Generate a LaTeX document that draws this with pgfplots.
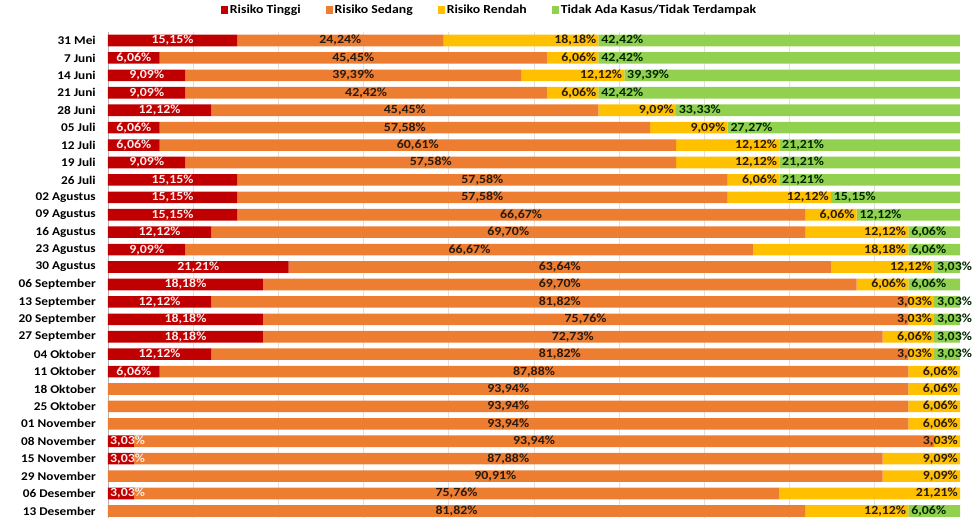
\documentclass[border=0pt]{standalone}
\usepackage{pgfplots}
\pgfplotsset{compat=1.18}
\usepackage{pgfplotstable}
\usepackage{fontspec}
\setmainfont{Carlito}[FakeStretch=1.12]
\definecolor{cred}{HTML}{C00000}
\definecolor{corange}{HTML}{ED7D31}
\definecolor{cyellow}{HTML}{FFC000}
\definecolor{cgreen}{HTML}{92D050}
\definecolor{ctext}{HTML}{2B1A0E}
\newcommand\lab[1]{\pgfmathparse{#1>0.01?1:0}\ifnum\pgfmathresult=1 \pgfmathprintnumber[fixed,fixed zerofill,precision=2,use comma,assume math mode=true]{#1}\%\fi}
\pgfplotstableread{
y r o ye g
0 15.15 24.24 18.18 42.42
1 6.06 45.45 6.06 42.42
2 9.09 39.39 12.12 39.39
3 9.09 42.42 6.06 42.42
4 12.12 45.45 9.09 33.33
5 6.06 57.58 9.09 27.27
6 6.06 60.61 12.12 21.21
7 9.09 57.58 12.12 21.21
8 15.15 57.58 6.06 21.21
9 15.15 57.58 12.12 15.15
10 15.15 66.67 6.06 12.12
11 12.12 69.70 12.12 6.06
12 9.09 66.67 18.18 6.06
13 21.21 63.64 12.12 3.03
14 18.18 69.70 6.06 6.06
15 12.12 81.82 3.03 3.03
16 18.18 75.76 3.03 3.03
17 18.18 72.73 6.06 3.03
18 12.12 81.82 3.03 3.03
19 6.06 87.88 6.06 0
20 0 93.94 6.06 0
21 0 93.94 6.06 0
22 0 93.94 6.06 0
23 3.03 93.94 3.03 0
24 3.03 87.88 9.09 0
25 0 90.91 9.09 0
26 3.03 75.76 21.21 0
27 0 81.82 12.12 6.06
}\data
\def\unitx{6.39}
\begin{document}
\begin{tikzpicture}
\begin{axis}[
  name=ax,
  scale only axis,
  width=639pt, height=364.6pt,
  xbar stacked, bar width=8.7pt,
  xmin=0, xmax=100, ymin=-0.5, ymax=27.4,
  enlargelimits=false,
  y dir=reverse,
  ytick={0,...,27},
  yticklabels={31 Mei,7 Juni,14 Juni,21 Juni,28 Juni,05 Juli,12 Juli,19 Juli,26 Juli,02 Agustus,09 Agustus,16 Agustus,23 Agustus,30 Agustus,06 September,13 September,20 September,27 September,04 Oktober,11 Oktober,18 Oktober,25 Oktober,01 November,08 November,15 November,29 November,06 Desember,13 Desember},
  yticklabel style={font=\fontsize{8.9}{10}\selectfont\bfseries, anchor=east, inner sep=0pt, xshift=-9pt, text=black},
  xtick={10,20,...,90}, xticklabels={},
  xmajorgrids, grid style={draw=black!12, line width=0.5pt},
  extra x ticks={0}, extra x tick labels={}, extra x tick style={grid style={draw=black!30, line width=0.6pt}},
  major tick length=0pt,
  axis line style={draw=none},
  point meta=x,
  every node near coord/.append style={font=\fontsize{9.3}{10}\selectfont\bfseries, inner sep=0pt},
  legend columns=4,
  legend style={at={(0.448,1)}, anchor=center, yshift=16.3pt, draw=none, fill=none,
    font=\fontsize{9.2}{10}\selectfont\bfseries,
    /tikz/every even column/.append style={column sep=17.5pt},
    nodes={inner sep=1.5pt}},
]
\addplot[fill=cred, draw=none,
  legend image code/.code={\fill[cred] (0pt,-2.8pt) rectangle (5pt,2.8pt);},
  visualization depends on={\thisrow{r} \as \sv},
  nodes near coords={\lab{\sv}},
  every node near coord/.append style={anchor=center, text=white!92!red, xshift={(\sv<4)*5pt}}]
  table[x=r, y=y] {\data};
\addlegendentry{Risiko Tinggi}
\addplot[fill=corange, draw=none,
  legend image code/.code={\fill[corange] (0pt,-2.8pt) rectangle (5pt,2.8pt);},
  visualization depends on={\thisrow{o} \as \sv},
  nodes near coords={\lab{\sv}},
  every node near coord/.append style={anchor=center, text=ctext}]
  table[x=o, y=y] {\data};
\addlegendentry{Risiko Sedang}
\addplot[fill=cyellow, draw=none,
  legend image code/.code={\fill[cyellow] (0pt,-2.8pt) rectangle (5pt,2.8pt);},
  visualization depends on={\thisrow{ye} \as \sv},
  nodes near coords={\lab{\sv}},
  every node near coord/.append style={anchor=east, text=ctext, xshift={\sv*\unitx*0.5pt-1.5pt}}]
  table[x=ye, y=y] {\data};
\addlegendentry{Risiko Rendah}
\addplot[fill=cgreen, draw=none,
  legend image code/.code={\fill[cgreen] (0pt,-2.8pt) rectangle (5pt,2.8pt);},
  visualization depends on={\thisrow{g} \as \sv},
  nodes near coords={\lab{\sv}},
  every node near coord/.append style={anchor=west, text=black!85!green, xshift={-\sv*\unitx*0.5pt+2pt}}]
  table[x=g, y=y] {\data};
\addlegendentry{Tidak Ada Kasus/Tidak Terdampak}
\end{axis}
\path ([xshift=-81pt]ax.south west) rectangle ([xshift=12pt,yshift=23.85pt]ax.north east);
\end{tikzpicture}
\end{document}
